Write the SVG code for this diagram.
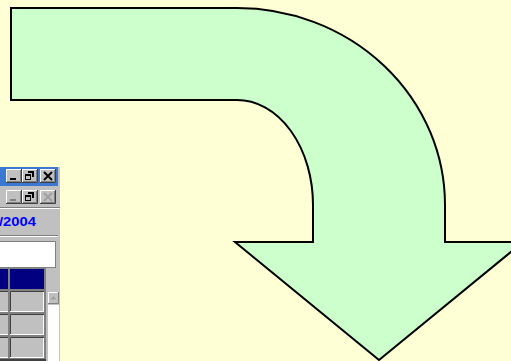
<svg xmlns="http://www.w3.org/2000/svg" width="511" height="361" viewBox="0 0 511 361">
<style>
.bg{fill:#FFFFD5}
.arrow{fill:#CCFFCC;stroke:#000;stroke-width:2;stroke-linejoin:miter}
.gray{fill:#C0C0C0}
.btn{fill:#C0C0C0;stroke:none}
.hi{stroke:#FFFFFF;stroke-width:1;fill:none}
.sh{stroke:#404040;stroke-width:1;fill:none}
.sh2{stroke:#808080;stroke-width:1;fill:none}
.glyph{fill:#000}
.dis{fill:#808080}
.hdr{fill:#000080}
.txt{font-family:"Liberation Sans",Arial,sans-serif;font-weight:bold;font-size:13px;fill:#0000FF}
</style>
<defs>
<g id="button">
<rect class="btn" x="0" y="0" width="16" height="14"/>
<path class="hi" d="M0.5,13 V0.5 H15"/>
<path class="sh" d="M0,13.5 H15.5 V0"/>
<path class="sh2" d="M1,12.5 H14.5 V1"/>
</g>
</defs>
<rect class="bg" x="0" y="0" width="511" height="361"/>
<g id="window">
<rect class="gray" x="0" y="167" width="60" height="194"/>
<rect x="0" y="167" width="58" height="19" fill="#3A78D4"/>
<g id="title-buttons">
<use href="#button" x="6" y="169"/>
<rect class="glyph" x="10" y="178" width="6" height="2"/>
<use href="#button" x="22" y="169"/>
<path class="glyph" d="M28,171 h6 v6 h-2 v-4 h-4 z M25,174 h6 v6 h-6 z"/>
<rect class="gray" x="26" y="176" width="4" height="3"/>
<use href="#button" x="40" y="169"/>
<path d="M44,172 L52,180 M52,172 L44,180" stroke="#000" stroke-width="2"/>
</g>
<g id="mdi-buttons">
<use href="#button" x="6" y="190"/>
<rect class="dis" x="10" y="199" width="6" height="2"/>
<use href="#button" x="22" y="190"/>
<path class="glyph" d="M28,192 h6 v6 h-2 v-4 h-4 z M25,195 h6 v6 h-6 z"/>
<rect class="gray" x="26" y="197" width="4" height="3"/>
<use href="#button" x="40" y="190"/>
<path d="M44,193 L52,201 M52,193 L44,201" stroke="#A0A0A0" stroke-width="2"/>
</g>
<path class="sh2" d="M0,207.5 H60"/>
<path class="hi" d="M0,208.5 H60"/>
<text class="txt" x="-1" y="226" textLength="37" lengthAdjust="spacingAndGlyphs">/2004</text>
<path class="sh2" d="M0,235.5 H58"/>
<path class="hi" d="M0,236.5 H58"/>
<rect x="0" y="241" width="55" height="26" fill="#FFFFFF"/>
<path class="sh2" d="M0,241.5 H55.5 V267"/>
<path class="sh2" d="M0,267.5 H56"/>
<g id="grid">
<rect x="0" y="268" width="46" height="93" fill="#808080"/>
<rect class="hdr" x="0" y="269" width="8" height="20"/>
<rect class="hdr" x="10" y="269" width="34" height="20"/>
<rect class="gray" x="0" y="291" width="8" height="21"/>
<rect class="gray" x="10" y="291" width="34" height="21"/>
<rect class="gray" x="0" y="314" width="8" height="21"/>
<rect class="gray" x="10" y="314" width="34" height="21"/>
<rect class="gray" x="0" y="337" width="8" height="21"/>
<rect class="gray" x="10" y="337" width="34" height="21"/>
<path class="sh" d="M0,291.5 H8 M10.5,312 V291.5 H44 M0,314.5 H8 M10.5,335 V314.5 H44 M0,337.5 H8 M10.5,358 V337.5 H44"/>
<path class="hi" d="M0,311.5 H8 M10,311.5 H43.5 V292 M0,334.5 H8 M10,334.5 H43.5 V315 M0,357.5 H8 M10,357.5 H43.5 V338"/>
<rect x="0" y="359" width="46" height="2" fill="#404040"/>
</g>
<rect class="gray" x="46" y="268" width="14" height="93"/>
<g id="scrollbar">
<rect x="48" y="305" width="11" height="56" fill="#FFFFFF"/>
<rect class="btn" x="48" y="292" width="11" height="12"/>
<path class="hi" d="M48.5,303 V292.5 H58"/>
<path class="sh2" d="M48,303.5 H58.5 V292"/>
<path d="M53.5,296 L50.5,299.5 H56.5 Z" fill="#A0A0A0"/>
</g>
</g>
<g id="connectors">
<path id="bent-arrow" class="arrow" d="M11,8 H237 A208,197 0 0 1 445,205 V242 H523 L379,360 L235,242 H313 V205 A76,105 0 0 0 237,100 H11 Z"/>
</g>
</svg>
